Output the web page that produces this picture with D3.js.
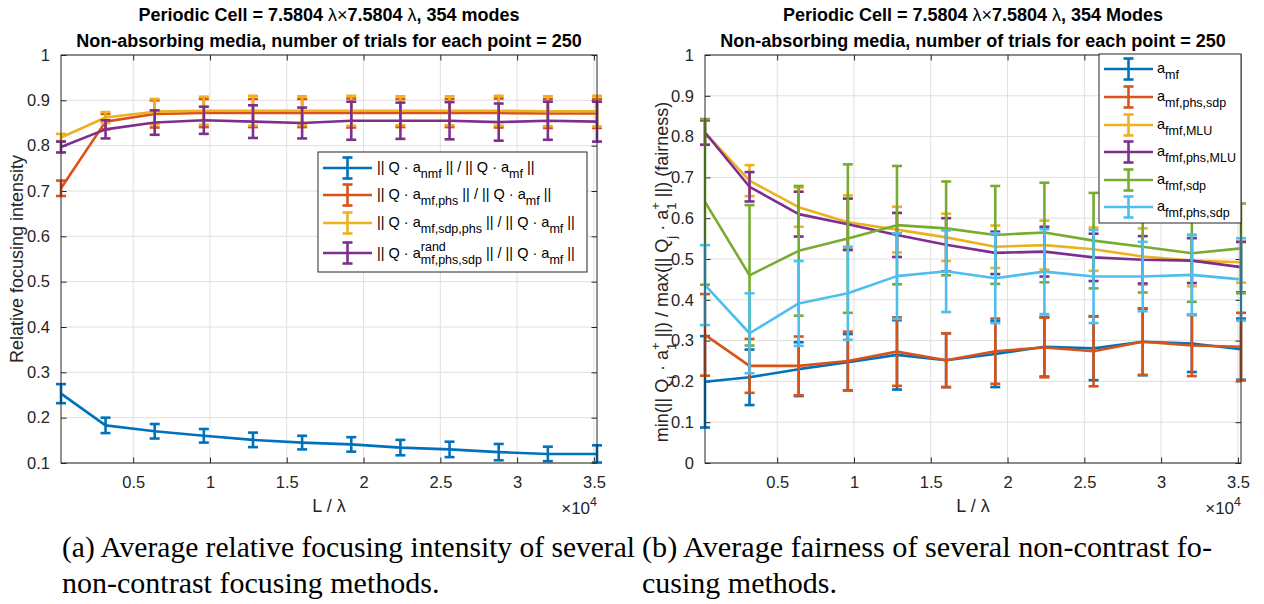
<!DOCTYPE html>
<html><head><meta charset="utf-8">
<script src="https://cdn.jsdelivr.net/npm/d3@7"></script>
<style>body{margin:0;background:#fff}svg{display:block}text{white-space:pre}</style>
</head><body>
<svg id="c" width="1264" height="604"></svg>
<script>
// ---------------- DATA ----------------
const xVals = [300, 3200, 6400, 9600, 12800, 16000, 19200, 22400, 25600, 28800, 32000, 35200];
const xTicks = [5000, 10000, 15000, 20000, 25000, 30000, 35000];
const xTickLabels = ["0.5", "1", "1.5", "2", "2.5", "3", "3.5"];
const leftYTicks = [0.1, 0.2, 0.3, 0.4, 0.5, 0.6, 0.7, 0.8, 0.9, 1];
const leftYTickLabels = ["0.1", "0.2", "0.3", "0.4", "0.5", "0.6", "0.7", "0.8", "0.9", "1"];
const rightYTicks = [0, 0.1, 0.2, 0.3, 0.4, 0.5, 0.6, 0.7, 0.8, 0.9, 1];
const rightYTickLabels = ["0", "0.1", "0.2", "0.3", "0.4", "0.5", "0.6", "0.7", "0.8", "0.9", "1"];

// left panel (relative focusing intensity)
const nmfMean = [0.253, 0.183, 0.170, 0.160, 0.151, 0.145, 0.141, 0.134, 0.130, 0.124, 0.120, 0.120];
const nmfErr = [0.021, 0.017, 0.016, 0.015, 0.016, 0.015, 0.016, 0.017, 0.017, 0.018, 0.016, 0.019];
const mfPhsMean = [0.706, 0.853, 0.870, 0.872, 0.872, 0.872, 0.872, 0.872, 0.872, 0.872, 0.871, 0.871];
const mfPhsErr = [0.017, 0.017, 0.030, 0.031, 0.031, 0.031, 0.032, 0.031, 0.031, 0.032, 0.032, 0.032];
const mfSdpPhsMean = [0.818, 0.862, 0.875, 0.877, 0.877, 0.877, 0.877, 0.877, 0.877, 0.877, 0.876, 0.876];
const mfSdpPhsErr = [0.008, 0.012, 0.028, 0.031, 0.033, 0.032, 0.033, 0.032, 0.032, 0.033, 0.033, 0.034];
const randMean = [0.797, 0.836, 0.851, 0.856, 0.853, 0.850, 0.855, 0.855, 0.855, 0.852, 0.855, 0.853];
const randErr = [0.012, 0.020, 0.027, 0.030, 0.036, 0.034, 0.042, 0.040, 0.041, 0.041, 0.042, 0.044];

// right panel (fairness)
const amfMean = [0.199, 0.210, 0.230, 0.247, 0.265, 0.252, 0.267, 0.285, 0.281, 0.297, 0.293, 0.279];
const amfErr = [0.112, 0.068, 0.066, 0.069, 0.085, 0.066, 0.081, 0.073, 0.078, 0.082, 0.070, 0.075];
const amfPhsSdpMean = [0.314, 0.238, 0.238, 0.250, 0.273, 0.252, 0.274, 0.283, 0.274, 0.297, 0.288, 0.285];
const amfPhsSdpErr = [0.100, 0.066, 0.072, 0.072, 0.084, 0.066, 0.080, 0.073, 0.086, 0.081, 0.075, 0.083];
const fmfMluMean = [0.810, 0.692, 0.627, 0.590, 0.572, 0.553, 0.530, 0.534, 0.524, 0.506, 0.496, 0.492];
const fmfMluErr = [0.030, 0.038, 0.048, 0.066, 0.056, 0.058, 0.052, 0.060, 0.053, 0.069, 0.063, 0.050];
const fmfPhsMluMean = [0.810, 0.677, 0.610, 0.585, 0.559, 0.535, 0.515, 0.518, 0.504, 0.498, 0.496, 0.480];
const fmfPhsMluErr = [0.030, 0.036, 0.055, 0.063, 0.054, 0.065, 0.052, 0.061, 0.058, 0.058, 0.055, 0.062];
const fmfSdpMean = [0.640, 0.460, 0.520, 0.550, 0.583, 0.575, 0.559, 0.565, 0.545, 0.530, 0.514, 0.526];
const fmfSdpErr = [0.203, 0.172, 0.159, 0.182, 0.145, 0.115, 0.120, 0.122, 0.117, 0.112, 0.119, 0.110];
const fmfPhsSdpMean = [0.436, 0.318, 0.391, 0.416, 0.458, 0.470, 0.453, 0.469, 0.457, 0.457, 0.461, 0.450];
const fmfPhsSdpErr = [0.098, 0.098, 0.104, 0.114, 0.105, 0.100, 0.110, 0.104, 0.114, 0.085, 0.098, 0.101];

const leftTitle1 = ["Periodic Cell = 7.5804 ", "λ", "×", "7.5804 ", "λ", ", 354 modes"];
const rightTitle1 = ["Periodic Cell = 7.5804 ", "λ", "×", "7.5804 ", "λ", ", 354 Modes"];
const title2 = "Non-absorbing media, number of trials for each point = 250";

// ---------------- STYLE ----------------
const C = {blue:"#0072BD", orange:"#D95319", yellow:"#EDB120", purple:"#7E2F8E", green:"#77AC30", cyan:"#4DBEEE"};
const FONT = "'Liberation Sans', Arial, Helvetica, sans-serif";
const AX = "#262626", GRID = "#dfdfdf";
const TICK_FS = 16.5, LABEL_FS = 18, TITLE_FS = 18, LEG_FS = 14.5, LEG_SUB = 12.5;
const svg = d3.select("#c");

function richText(parent, segs, o) {
  const g = parent.append("g").attr("font-family", FONT).attr("fill", o.fill || "#000");
  const fs = o.size, sfs = o.subSize || fs * 0.78;
  let x = 0;
  segs.forEach(s => {
    if (s.t) {
      const e = g.append("text").attr("x", x).attr("y", 0).attr("font-size", fs)
        .attr("font-weight", s.w || o.weight || "normal").attr("xml:space", "preserve").text(s.t);
      x += e.node().getComputedTextLength();
    }
    let w = 0;
    if (s.sup) {
      const e = g.append("text").attr("x", x).attr("y", -fs * 0.45).attr("font-size", sfs).text(s.sup);
      w = Math.max(w, e.node().getComputedTextLength());
    }
    if (s.sub) {
      const e = g.append("text").attr("x", x).attr("y", fs * 0.42).attr("font-size", sfs).text(s.sub);
      w = Math.max(w, e.node().getComputedTextLength());
    }
    x += w;
  });
  const shift = o.anchor === "middle" ? -x / 2 : (o.anchor === "end" ? -x : 0);
  g.attr("transform", `translate(${o.x},${o.y}) rotate(${o.rotate || 0}) translate(${shift},0)`);
  return g;
}

function panel(cfg) {
  const g = svg.append("g");
  const x = d3.scaleLinear().domain([xVals[0], xVals[xVals.length - 1]]).range([cfg.x0, cfg.x1]);
  const y = d3.scaleLinear().domain(cfg.yDomain).range([cfg.y1, cfg.y0]);
  // grid
  g.append("g").selectAll("line").data(xTicks).join("line")
    .attr("x1", d => x(d)).attr("x2", d => x(d)).attr("y1", cfg.y0).attr("y2", cfg.y1)
    .attr("stroke", GRID).attr("stroke-width", 1);
  g.append("g").selectAll("line").data(cfg.yTicks).join("line")
    .attr("y1", d => y(d)).attr("y2", d => y(d)).attr("x1", cfg.x0).attr("x2", cfg.x1)
    .attr("stroke", GRID).attr("stroke-width", 1);
  // axes via d3 axes (ticks inward), on all four sides
  const tl = 5.5;
  const bottom = d3.axisBottom(x).tickValues(xTicks).tickFormat((d, i) => xTickLabels[i]).tickSizeInner(-tl).tickSizeOuter(0).tickPadding(13);
  const top = d3.axisTop(x).tickValues(xTicks).tickFormat("").tickSizeInner(-tl).tickSizeOuter(0);
  const left = d3.axisLeft(y).tickValues(cfg.yTicks).tickFormat((d, i) => cfg.yLabels[i]).tickSizeInner(-tl).tickSizeOuter(0).tickPadding(11);
  const right = d3.axisRight(y).tickValues(cfg.yTicks).tickFormat("").tickSizeInner(-tl).tickSizeOuter(0);
  const axes = [
    g.append("g").attr("transform", `translate(0,${cfg.y1})`).call(bottom),
    g.append("g").attr("transform", `translate(0,${cfg.y0})`).call(top),
    g.append("g").attr("transform", `translate(${cfg.x0},0)`).call(left),
    g.append("g").attr("transform", `translate(${cfg.x1},0)`).call(right)
  ];
  axes.forEach(a => {
    a.select(".domain").remove();
    a.selectAll(".tick line").attr("stroke", AX);
    a.selectAll("text").attr("font-family", FONT).attr("font-size", TICK_FS).attr("fill", AX);
  });
  // series
  const series = g.append("g");
  cfg.series.forEach(s => {
    const sg = series.append("g").attr("stroke", s.color).attr("fill", "none");
    sg.append("path").attr("d", d3.line().x((d, i) => x(xVals[i])).y(d => y(d))(s.mean))
      .attr("stroke-width", 2.6).attr("stroke-linejoin", "round");
    s.mean.forEach((m, i) => {
      const cx = x(xVals[i]), yt = y(m + s.err[i]), yb = y(m - s.err[i]);
      sg.append("line").attr("x1", cx).attr("x2", cx).attr("y1", yt).attr("y2", yb).attr("stroke-width", 2.6);
      [yt, yb].forEach(yy => sg.append("line").attr("x1", cx - 5).attr("x2", cx + 5).attr("y1", yy).attr("y2", yy).attr("stroke-width", 2.6));
    });
  });
  // box
  g.append("rect").attr("x", cfg.x0).attr("y", cfg.y0).attr("width", cfg.x1 - cfg.x0).attr("height", cfg.y1 - cfg.y0)
    .attr("fill", "none").attr("stroke", AX).attr("stroke-width", 1);
  // exponent
  richText(g, [{t: "×10", sup: "4"}], {x: cfg.x1, y: 514, size: 17, subSize: 12.5, anchor: "end", fill: AX});
  // titles
  const cx = (cfg.x0 + cfg.x1) / 2;
  richText(g, cfg.title1.map(t => ({t, w: (t === "λ" || t === "×") ? "normal" : "bold"})), {x: cx, y: 21, size: TITLE_FS, anchor: "middle"});
  g.append("text").attr("x", cx).attr("y", 47).attr("text-anchor", "middle").attr("font-family", FONT)
    .attr("font-size", TITLE_FS).attr("font-weight", "bold").text(title2);
  // x label
  g.append("text").attr("x", cx).attr("y", 512).attr("text-anchor", "middle").attr("font-family", FONT)
    .attr("font-size", LABEL_FS).attr("fill", AX).text("L / λ");
  // y label
  richText(g, cfg.yLabel, {x: cfg.yLabelX, y: cfg.yLabelY, size: LABEL_FS, subSize: 13, anchor: "middle", rotate: -90, fill: AX});
  // legend
  const L = cfg.legend;
  const lg = g.append("g");
  lg.append("rect").attr("x", L.x0).attr("y", L.y0).attr("width", L.x1 - L.x0).attr("height", L.y1 - L.y0)
    .attr("fill", "#fff").attr("stroke", AX).attr("stroke-width", 1);
  cfg.series.forEach((s, i) => {
    const ly = L.ys[i];
    const eg = lg.append("g").attr("stroke", s.color).attr("stroke-width", 2.6);
    const mx = (L.lx0 + L.lx1) / 2;
    eg.append("line").attr("x1", L.lx0).attr("x2", L.lx1).attr("y1", ly).attr("y2", ly);
    eg.append("line").attr("x1", mx).attr("x2", mx).attr("y1", ly - 10.5).attr("y2", ly + 10.5);
    [ly - 10.5, ly + 10.5].forEach(yy => eg.append("line").attr("x1", mx - 5).attr("x2", mx + 5).attr("y1", yy).attr("y2", yy));
    richText(lg, s.label, {x: L.tx, y: ly + (s.labelDy || 3.5), size: LEG_FS, subSize: LEG_SUB, anchor: "start"});
  });
}

// ---------------- LEFT PANEL ----------------
panel({
  x0: 61, x1: 597, y0: 55, y1: 463, yDomain: [0.1, 1], yTicks: leftYTicks, yLabels: leftYTickLabels,
  title1: leftTitle1,
  yLabel: [{t: "Relative focusing intensity"}], yLabelX: 23, yLabelY: 259,
  series: [
    {mean: nmfMean, err: nmfErr, color: C.blue, label: [{t: "|| Q · a", sub: "nmf"}, {t: " || / || Q · a", sub: "mf"}, {t: " ||"}]},
    {mean: mfPhsMean, err: mfPhsErr, color: C.orange, label: [{t: "|| Q · a", sub: "mf,phs"}, {t: " || / || Q · a", sub: "mf"}, {t: " ||"}]},
    {mean: mfSdpPhsMean, err: mfSdpPhsErr, color: C.yellow, label: [{t: "|| Q · a", sub: "mf,sdp,phs"}, {t: " || / || Q · a", sub: "mf"}, {t: " ||"}]},
    {mean: randMean, err: randErr, color: C.purple, labelDy: 5, label: [{t: "|| Q · a", sub: "mf,phs,sdp", sup: "rand"}, {t: " || / || Q · a", sub: "mf"}, {t: " ||"}]}
  ],
  legend: {x0: 318, x1: 587, y0: 152, y1: 272, ys: [168, 195, 223, 253], lx0: 323, lx1: 372, tx: 377}
});

// ---------------- RIGHT PANEL ----------------
panel({
  x0: 705, x1: 1241, y0: 55, y1: 463, yDomain: [0, 1], yTicks: rightYTicks, yLabels: rightYTickLabels,
  title1: rightTitle1,
  yLabel: [{t: "min(|| Q", sub: "i"}, {t: " · a", sub: "1", sup: "+"}, {t: " ||) / max(|| Q", sub: "j"}, {t: " · a", sub: "1", sup: "+"}, {t: " ||) (fairness)"}],
  yLabelX: 668, yLabelY: 272,
  series: [
    {mean: amfMean, err: amfErr, color: C.blue, label: [{t: "a", sub: "mf"}]},
    {mean: amfPhsSdpMean, err: amfPhsSdpErr, color: C.orange, label: [{t: "a", sub: "mf,phs,sdp"}]},
    {mean: fmfMluMean, err: fmfMluErr, color: C.yellow, label: [{t: "a", sub: "fmf,MLU"}]},
    {mean: fmfPhsMluMean, err: fmfPhsMluErr, color: C.purple, label: [{t: "a", sub: "fmf,phs,MLU"}]},
    {mean: fmfSdpMean, err: fmfSdpErr, color: C.green, label: [{t: "a", sub: "fmf,sdp"}]},
    {mean: fmfPhsSdpMean, err: fmfPhsSdpErr, color: C.cyan, label: [{t: "a", sub: "fmf,phs,sdp"}]}
  ],
  legend: {x0: 1099, x1: 1241, y0: 54, y1: 223, ys: [69, 97, 125, 152, 180, 207], lx0: 1104, lx1: 1153, tx: 1157}
});

// ---------------- CAPTIONS ----------------
const SERIF = "'Liberation Serif', 'Times New Roman', serif";
const cap = svg.append("g").attr("font-family", SERIF).attr("font-size", 30).attr("fill", "#000");
cap.append("text").attr("x", 62).attr("y", 557).attr("textLength", 573).attr("lengthAdjust", "spacingAndGlyphs").text("(a) Average relative focusing intensity of several");
cap.append("text").attr("x", 62).attr("y", 593).text("non-contrast focusing methods.");
cap.append("text").attr("x", 642).attr("y", 557).attr("textLength", 570).attr("lengthAdjust", "spacingAndGlyphs").text("(b) Average fairness of several non-contrast fo-");
cap.append("text").attr("x", 642).attr("y", 593).text("cusing methods.");
</script>
</body></html>
